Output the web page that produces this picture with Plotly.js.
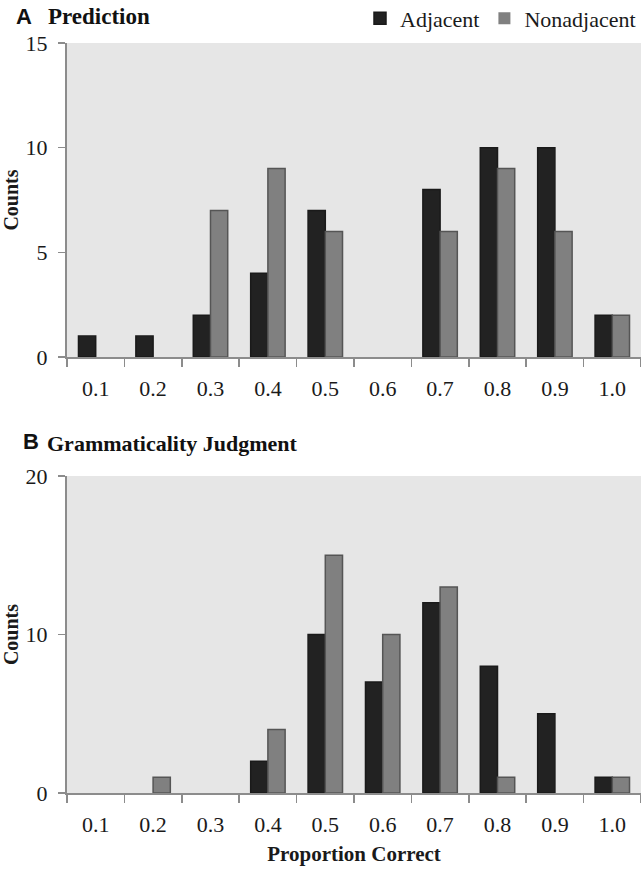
<!DOCTYPE html>
<html>
<head>
<meta charset="utf-8">
<script src="https://cdn.plot.ly/plotly-3.0.1.min.js"></script>
<style>html,body{margin:0;padding:0;background:#fff;}#chart{width:641px;height:869px;}</style>
</head>
<body>
<div id="chart"></div>
<script>
const categories = ['0.1','0.2','0.3','0.4','0.5','0.6','0.7','0.8','0.9','1.0'];
const predAdjacent = [1,1,2,4,7,0,8,10,10,2];
const predNonadjacent = [0,0,7,9,6,0,6,9,6,2];
const gramAdjacent = [0,0,0,2,10,7,12,8,5,1];
const gramNonadjacent = [0,1,0,4,15,10,13,1,0,1];
const topTicks = [0,5,10,15];
const bottomTicks = [0,10,20];

const serif = '"Liberation Serif", "Times New Roman", serif';
function style(fill, edge, vals) {
  return {color:fill, line:{color:edge, width:vals.map(v => v > 0 ? 1.5 : 0)}};
}

const traces = [
  {type:'bar', name:'Adjacent', x:categories, y:predAdjacent, xaxis:'x', yaxis:'y', marker:style('#222222','#1a1a1a',predAdjacent), legendgroup:'a'},
  {type:'bar', name:'Nonadjacent', x:categories, y:predNonadjacent, xaxis:'x', yaxis:'y', marker:style('#808080','#555555',predNonadjacent), legendgroup:'n'},
  {type:'bar', name:'Adjacent', x:categories, y:gramAdjacent, xaxis:'x2', yaxis:'y2', marker:style('#222222','#1a1a1a',gramAdjacent), showlegend:false, legendgroup:'a'},
  {type:'bar', name:'Nonadjacent', x:categories, y:gramNonadjacent, xaxis:'x2', yaxis:'y2', marker:style('#808080','#555555',gramNonadjacent), showlegend:false, legendgroup:'n'}
];

const xCommon = {
  type:'category', tickson:'boundaries', ticks:'outside', ticklen:8, tickwidth:1.5, tickcolor:'#8c8c8c',
  showline:true, linecolor:'#8c8c8c', linewidth:2, showgrid:false, zeroline:false,
  tickfont:{family:serif, size:22, color:'#1a1a1a'}, ticklabelstandoff:11, fixedrange:true
};
const yCommon = {
  ticks:'outside', ticklen:7, tickwidth:1.5, tickcolor:'#8c8c8c',
  showline:true, linecolor:'#8c8c8c', linewidth:2, showgrid:false, zeroline:false,
  tickfont:{family:serif, size:22, color:'#1a1a1a'}, ticklabelstandoff:6, fixedrange:true
};

const layout = {
  width:641, height:869,
  margin:{l:67, r:0, t:0, b:0, autoexpand:false},
  paper_bgcolor:'#ffffff', plot_bgcolor:'#e6e6e6',
  barmode:'group', bargap:0.4, bargroupgap:0,
  showlegend:true,
  legend:{orientation:'h', x:1, xanchor:'right', y:1.003, yanchor:'top', yref:'paper',
    font:{family:serif, size:22, color:'#1a1a1a'}, itemwidth:30, bgcolor:'rgba(0,0,0,0)', traceorder:'normal'},
  xaxis:Object.assign({}, xCommon, {domain:[0,1], anchor:'y'}),
  yaxis:Object.assign({}, yCommon, {domain:[1-357/869, 1-43/869], range:[0,15], tickvals:topTicks, anchor:'x',
    title:{text:'<b>Counts</b>', font:{family:serif, size:20, color:'#1a1a1a'}, standoff:10}}),
  xaxis2:Object.assign({}, xCommon, {domain:[0,1], anchor:'y2',
    title:{text:'<b>Proportion Correct</b>', font:{family:serif, size:21, color:'#1a1a1a'}, standoff:10}}),
  yaxis2:Object.assign({}, yCommon, {domain:[1-793/869, 1-476/869], range:[0,20], tickvals:bottomTicks, anchor:'x2',
    title:{text:'<b>Counts</b>', font:{family:serif, size:20, color:'#1a1a1a'}, standoff:10}}),
  annotations:[
    {text:'<b>A</b>', xref:'paper', yref:'paper', x:-67/641+8/641, y:1-16/869, xanchor:'left', yanchor:'middle', showarrow:false,
      font:{family:'"Liberation Sans", Arial, sans-serif', size:22, color:'#111'}},
    {text:'<b>Prediction</b>', xref:'paper', yref:'paper', x:-67/641+44/641, y:1-16/869, xanchor:'left', yanchor:'middle', showarrow:false,
      font:{family:serif, size:23, color:'#111'}},
    {text:'<b>B</b>', xref:'paper', yref:'paper', x:-67/641+16/641, y:1-441/869, xanchor:'left', yanchor:'middle', showarrow:false,
      font:{family:'"Liberation Sans", Arial, sans-serif', size:22, color:'#111'}},
    {text:'<b>Grammaticality Judgment</b>', xref:'paper', yref:'paper', x:-67/641+42/641, y:1-443/869, xanchor:'left', yanchor:'middle', showarrow:false,
      font:{family:serif, size:22, color:'#111'}}
  ]
};

Plotly.newPlot('chart', traces, layout, {displayModeBar:false, staticPlot:true});
</script>
</body>
</html>
